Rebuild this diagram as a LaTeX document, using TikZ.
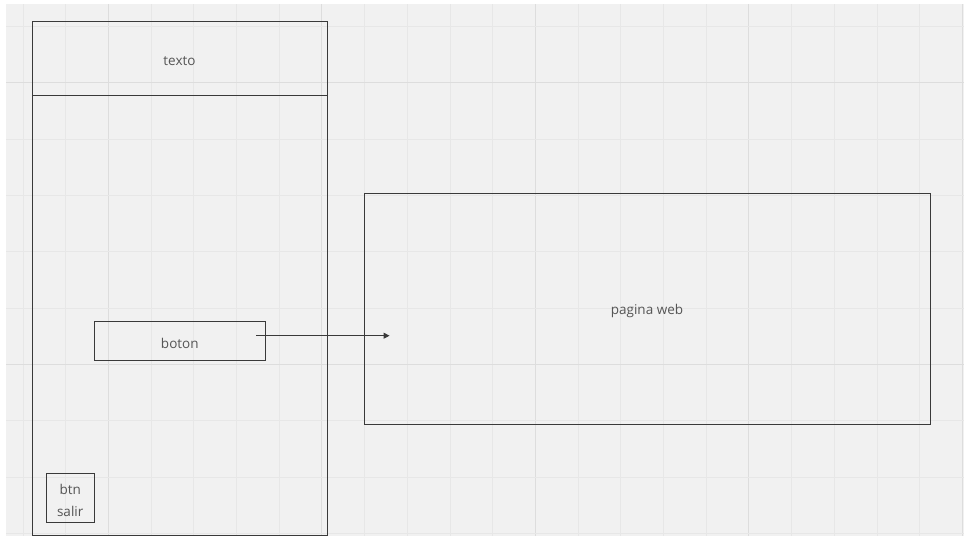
\documentclass[tikz,border=0pt]{standalone}
\usepackage{fontspec}
\setmainfont{Open Sans}
\usetikzlibrary{arrows.meta}
\definecolor{bgc}{HTML}{F1F1F1}
\definecolor{minorc}{HTML}{E7E7E7}
\definecolor{majorc}{HTML}{DDDDDD}
\definecolor{linec}{HTML}{3A3A3A}
\definecolor{txtc}{HTML}{555555}
\tikzset{
  box/.style={draw=linec, line width=0.9pt, rectangle, inner sep=0pt},
  txt/.style={font=\fontsize{13.5}{22.7}\selectfont, text=txtc, align=center, inner sep=0pt, yshift=-2.5pt},
  conn/.style={draw=linec, line width=0.9pt, -{Triangle[length=6pt,width=6pt]}},
}
\begin{document}
\begin{tikzpicture}[x=1pt,y=-1pt]
\useasboundingbox (0,0) rectangle (964,538);
\fill[white] (0,0) rectangle (964,538);
\fill[bgc] (6,4) rectangle (964,536);
% grid
\foreach \k in {-12,...,10} {
  \pgfmathsetmacro{\gx}{535.3+42.7*\k}
  \pgfmathtruncatemacro{\mj}{mod(\k+20,5)==0 ? 1 : 0}
  \ifnum\mj=1
    \draw[majorc, line width=1pt] (\gx,4) -- (\gx,536);
  \else
    \draw[minorc, line width=0.8pt] (\gx,4) -- (\gx,536);
  \fi
}
\foreach \k in {-6,...,3} {
  \pgfmathsetmacro{\gy}{364.3+56.3*\k}
  \pgfmathtruncatemacro{\mj}{mod(\k+20,5)==0 ? 1 : 0}
  \ifnum\mj=1
    \draw[majorc, line width=1pt] (6,\gy) -- (964,\gy);
  \else
    \draw[minorc, line width=0.8pt] (6,\gy) -- (964,\gy);
  \fi
}
% frame
\node[box, minimum width=295pt, minimum height=514pt] (frame) at (179.5,278) {};
\node[box, minimum width=295pt, minimum height=74.7pt, label={[txt]center:texto}] (texto) at (179.5,58.4) {};
\node[box, minimum width=171pt, minimum height=39.4pt, label={[txt]center:boton}] (boton) at (179.8,341) {};
\node[box, minimum width=47.7pt, minimum height=49.4pt, label={[txt]center:{btn\\salir}}] (salir) at (70.2,498) {};
\node[box, minimum width=566pt, minimum height=231pt, label={[txt]center:pagina web}] (web) at (647,308.5) {};
\draw[conn] ([xshift=-9.6pt,yshift=5.3pt]boton.east) -- ([xshift=26pt,yshift=-27.2pt]web.west);
\end{tikzpicture}
\end{document}
